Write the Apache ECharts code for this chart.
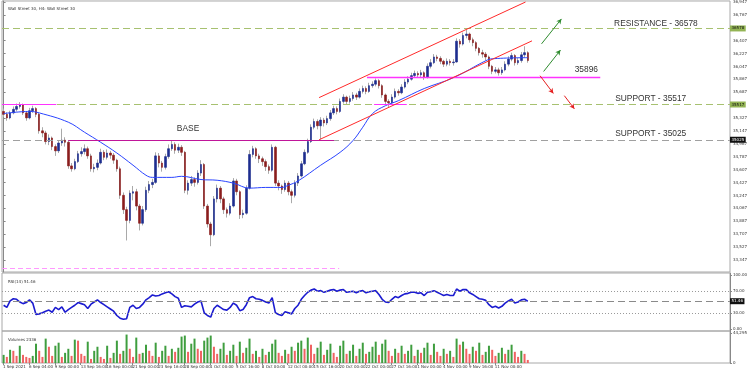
<!DOCTYPE html>
<html><head><meta charset="utf-8">
<script src="https://cdn.jsdelivr.net/npm/echarts@6/dist/echarts.min.js"></script>
<style>html,body{margin:0;padding:0;background:#fff}#c{width:750px;height:372px}</style>
</head><body><div id="c"></div><script>
const opens = [35420,35380,35330,35400,35450,35490,35510,35400,35330,35430,35460,35380,35150,35120,35000,35050,34930,34870,34980,35020,
34990,34660,34620,34720,34830,34860,34900,34800,34620,34640,34700,34850,34780,34840,34810,34740,34620,34250,34050,33900,
34280,34300,34100,33860,34050,34320,34400,34430,34800,34700,34640,34790,34900,34960,34880,34920,34850,34320,34420,34470,
34430,34560,34680,34100,33850,33700,34200,34350,34200,34050,34000,34100,34450,34300,33980,34000,34350,34820,34900,34800,
34760,34720,34650,34600,34920,34420,34380,34330,34420,34300,34250,34420,34520,34690,34850,35000,35200,35280,35220,35300,
35260,35320,35400,35460,35420,35560,35620,35560,35600,35650,35620,35700,35740,35700,35780,35800,35850,35780,35650,35560,
35540,35620,35700,35680,35760,35830,35870,35920,35950,35930,35960,35900,36050,36100,36180,36160,36120,36080,36120,36100,
36110,36400,36360,36480,36500,36420,36380,36300,36240,36220,36180,36050,35980,36000,35960,36000,36080,36150,36200,36100,
36130,36210,36240];
const closes = [35380,35330,35400,35450,35490,35510,35400,35330,35430,35460,35380,35150,35120,35000,35050,34930,34870,34980,35020,34990,
34660,34620,34720,34830,34860,34900,34800,34620,34640,34700,34850,34780,34840,34810,34740,34620,34250,34050,33900,34280,
34300,34100,33860,34050,34320,34400,34430,34800,34700,34640,34790,34900,34960,34880,34920,34850,34320,34420,34470,34430,
34560,34680,34100,33850,33700,34200,34350,34200,34050,34000,34100,34450,34300,33980,34000,34350,34820,34900,34800,34760,
34720,34650,34600,34920,34420,34380,34330,34420,34300,34250,34420,34520,34690,34850,35000,35200,35280,35220,35300,35260,
35320,35400,35460,35420,35560,35620,35560,35600,35650,35620,35700,35740,35700,35780,35800,35850,35780,35650,35560,35540,
35620,35700,35680,35760,35830,35870,35920,35950,35930,35960,35900,36050,36100,36180,36160,36120,36080,36120,36100,36110,
36400,36360,36480,36500,36420,36380,36300,36240,36220,36180,36050,35980,36000,35960,36000,36080,36150,36200,36100,36130,
36210,36240,36130];
const lows = [35340,35290,35310,35380,35420,35460,35370,35290,35310,35400,35340,35110,35060,34960,34950,34880,34800,34840,34940,34930,
34620,34580,34600,34700,34790,34820,34760,34580,34570,34600,34680,34740,34750,34760,34690,34580,34200,33990,33620,33860,
34180,34040,33760,33830,34020,34280,34350,34410,34640,34580,34610,34760,34870,34830,34840,34800,34280,34260,34380,34370,
34400,34520,34060,33800,33540,33680,34150,34140,33990,33940,33970,34080,34250,33920,33930,33980,34330,34780,34760,34700,
34660,34590,34550,34580,34380,34320,34270,34300,34250,34140,34220,34380,34500,34670,34830,34980,35170,35170,35030,35210,
35230,35290,35370,35380,35400,35530,35520,35530,35570,35580,35600,35670,35660,35680,35750,35770,35740,35610,35520,35480,
35510,35600,35640,35660,35740,35800,35850,35890,35890,35900,35860,35880,36020,36080,36120,36080,36040,36050,36060,36060,
36100,36310,36340,36440,36380,36330,36260,36200,36170,36130,36010,35940,35950,35920,35930,35980,36050,36120,36060,36070,
36100,36170,36100];
const highs = [35460,35410,35430,35490,35530,35550,35530,35420,35470,35500,35480,35400,35200,35150,35100,35070,34960,35020,35180,35060,
35010,34700,34760,34870,34920,34960,34930,34830,34690,34750,34900,34880,34890,34870,34840,34760,34650,34290,34090,34320,
34380,34340,34130,34100,34370,34450,34480,34850,34840,34730,34830,34960,35020,34990,34970,34950,34870,34460,34520,34500,
34600,34740,34700,34130,33880,34240,34400,34380,34230,34080,34140,34490,34480,34320,34050,34390,34880,34940,34920,34830,
34790,34750,34680,34960,34940,34460,34400,34460,34450,34330,34460,34560,34730,34890,35040,35240,35320,35310,35340,35330,
35360,35440,35500,35490,35600,35660,35640,35640,35690,35680,35740,35780,35770,35820,35840,35880,35870,35800,35670,35590,
35660,35740,35730,35800,35870,35910,35960,35990,35980,36000,35980,36090,36150,36220,36210,36190,36140,36160,36150,36150,
36440,36430,36520,36560,36520,36450,36400,36320,36280,36250,36200,36070,36040,36030,36040,36120,36190,36240,36220,36170,
36250,36330,36260];
const volumes = [12000,9000,19500,18000,10500,25500,12000,9000,7500,10500,28500,18000,9000,36000,24000,10500,25500,30000,9000,15000,
21000,10500,34500,33000,13500,10500,31500,6000,18000,24000,9000,6000,25500,7500,15000,33000,13500,18000,42000,21000,
9000,37500,13500,15000,27000,18000,10500,30000,9000,18000,25500,10500,21000,16500,22500,39000,40500,16500,28500,36000,
21000,18000,33000,37500,40500,24000,13500,21000,30000,12000,18000,27000,10500,31500,15000,22500,36000,13500,18000,9000,
21000,12000,16500,28500,34500,15000,10500,19500,13500,24000,18000,30000,33000,21000,37500,27000,13500,22500,31500,12000,
19500,28500,15000,9000,25500,33000,13500,18000,27000,10500,21000,30000,13500,16500,24000,31500,12000,28500,34500,18000,
10500,21000,15000,25500,13500,18000,27000,10500,19500,15000,22500,30000,12000,28500,16500,10500,21000,13500,18000,9000,
36000,27000,31500,21000,13500,24000,18000,30000,12000,16500,25500,19500,10500,15000,22500,13500,19500,27000,16500,9000,
18000,13500,4500];
const rsi = [44,40,52,56,55,50,47,49,54,48,27,28,30,33,35,31,40,36,41,31,
36,40,44,49,47,45,38,46,50,54,49,45,41,37,33,25,20,18,19,40,
44,38,40,46,54,58,63,61,62,65,67,69,65,60,57,40,43,42,41,46,
50,52,30,25,22,38,44,40,36,35,40,48,44,34,36,45,58,60,56,55,
53,50,48,58,30,27,25,32,30,28,38,44,55,62,68,72,74,70,71,68,
70,72,73,70,72,73,68,69,70,67,70,71,67,69,70,71,64,55,50,49,
55,60,58,62,65,66,68,68,66,67,62,68,69,71,68,65,62,64,62,62,
74,70,73,73,67,64,60,56,55,53,45,40,42,39,42,48,52,55,48,50,
54,55,51.46];
const maPoints = [[0,35390],[8,35420],[11,35400],[20,35270],[25,35130],[30,34990],[35,34840],[40,34670],[44,34530],[46,34500],
[52,34500],[55,34515],[61,34470],[66,34460],[71,34420],[76,34350],[81,34360],[86,34360],[88,34390],[91,34450],[98,34670],
[104,34850],[108,35015],[111,35200],[114,35390],[118,35500],[122,35570],[130,35740],[139,35890],[149,36127],[151,36155],[162,36170]];
const xTickLabels = ['1 Sep 2021','6 Sep 04:00','9 Sep 00:00','13 Sep 16:00','16 Sep 00:00','21 Sep 00:00','23 Sep 16:00','28 Sep 00:00',
'1 Oct 00:00','5 Oct 16:00','8 Oct 00:00','12 Oct 00:00','15 Oct 16:00','20 Oct 00:00','22 Oct 00:00','27 Oct 16:00','1 Nov 00:00',
'4 Nov 00:00','9 Nov 16:00','11 Nov 00:00','16 Nov 00:00'];
const priceTicks = [33347,33527,33707,33887,34067,34247,34427,34607,34787,34967,35147,35327,35687,35867,36047,36227,36407,36767,36947];
const rsiTicks = [0,30,70,100];
const volTicks = [0,44295];
const resistance = 36578, support1 = 35517, support2 = 35025, midLevel = 35896, lowLevel = 33236, rsiNow = 51.46;

const N_CATS = 225, LABEL_EVERY = 8;
const cats = Array.from({length: N_CATS}, (_, i) => String(i));
const wickData = opens.map((o, i) => [o, closes[i], lows[i], highs[i]]);
const bodyData = opens.map((o, i) => [o, closes[i], Math.min(o, closes[i]), Math.max(o, closes[i])]);
const maData = cats.map(() => null);
maPoints.forEach(p => { maData[p[0]] = p[1]; });
const volData = volumes.map((v, i) => ({value: v, itemStyle: {color: (i === 0 || v > volumes[i - 1]) ? '#3f9e3f' : '#f06262'}}));

const tiny = {fontSize: 4, color: '#333', fontFamily: 'DejaVu Sans'};
const ann = {fontSize: 8.4, color: '#333', fontFamily: 'Liberation Sans'};
const GREEN = '#a7c170', MAG = '#ff33ff', BASEC = '#c0169a', RED = '#ff2a2a', ARG = '#2e8b2e', ARR = '#e52020';
const seg = (x1, y1, x2, y2, color, type, width) => [{coord: [x1, y1], lineStyle: {color, type: type || 'solid', width: width || 1}}, {coord: [x2, y2]}];
const arrow = (x1, y1, x2, y2, color) => [{coord: [x1, y1], symbol: 'none', lineStyle: {color, width: 1, type: 'solid'}}, {coord: [x2, y2], symbol: 'arrow', symbolSize: [4, 5]}];
const tag = (v, bg, fg) => ({yAxis: v, label: {show: true, position: 'end', distance: 0, formatter: String(v), backgroundColor: bg, color: fg, fontSize: 4, fontFamily: 'DejaVu Sans', padding: [1, 1.5]}});
const txt = (x, y, s) => ({coord: [x, y], symbolSize: 0, label: {show: true, position: 'inside', formatter: s, ...ann}});

const chart = echarts.init(document.getElementById('c'), null, {renderer: 'canvas'});
chart.setOption({
  animation: false,
  backgroundColor: '#fff',
  title: [
    {text: 'Wall Street 30, H4: Wall Street 30', left: 3, top: 2, textStyle: {...tiny, fontWeight: 'normal'}},
    {text: 'RSI(14) ' + rsiNow.toFixed(2), left: 3, top: 275, textStyle: {...tiny, fontWeight: 'normal'}},
    {text: 'Volumes 2336', left: 3, top: 333, textStyle: {...tiny, fontWeight: 'normal'}}
  ],
  grid: [
    {left: 2, right: 18, top: 0, height: 272, show: true, borderColor: '#a8a8a8', borderWidth: 1},
    {left: 2, right: 18, top: 273, height: 58, show: true, borderColor: '#a8a8a8', borderWidth: 1},
    {left: 2, right: 18, top: 331, height: 32, show: true, borderColor: '#a8a8a8', borderWidth: 1},
    {left: -0.6, right: 20.6, top: 331, height: 32, show: false}
  ],
  xAxis: [
    {type: 'category', gridIndex: 0, data: cats, show: false},
    {type: 'category', gridIndex: 1, data: cats, show: false},
    {type: 'category', gridIndex: 2, data: cats, show: false},
    {type: 'category', gridIndex: 3, data: cats, axisLine: {show: false},
      axisTick: {show: true, alignWithLabel: true, length: 2, interval: (i) => i % LABEL_EVERY === 0 && i / LABEL_EVERY < xTickLabels.length, lineStyle: {color: '#888'}},
      axisLabel: {show: true, interval: (i) => i % LABEL_EVERY === 0 && i / LABEL_EVERY < xTickLabels.length, formatter: (v, i) => xTickLabels[Math.round(Number(v) / LABEL_EVERY)] || '', align: 'left', margin: 2, ...tiny}},
    {type: 'value', gridIndex: 0, min: -0.5, max: N_CATS - 0.5, show: false}
  ],
  yAxis: [
    {type: 'value', gridIndex: 0, position: 'right', min: 33180, max: 36961, splitLine: {show: false},
      axisLine: {show: true, lineStyle: {color: '#888'}}, axisTick: {show: true, length: 2, customValues: priceTicks, lineStyle: {color: '#888'}},
      axisLabel: {customValues: priceTicks, margin: 3, ...tiny}},
    {type: 'value', gridIndex: 1, position: 'right', min: -3.7, max: 103.7, splitLine: {show: false},
      axisLine: {show: true, lineStyle: {color: '#888'}}, axisTick: {show: true, length: 2, customValues: rsiTicks, lineStyle: {color: '#888'}},
      axisLabel: {customValues: rsiTicks, formatter: (v) => Number(v).toFixed(2), margin: 3, ...tiny}},
    {type: 'value', gridIndex: 2, position: 'right', min: 0, max: 47250, splitLine: {show: false},
      axisLine: {show: true, lineStyle: {color: '#888'}}, axisTick: {show: true, length: 2, customValues: volTicks, lineStyle: {color: '#888'}},
      axisLabel: {customValues: volTicks, margin: 3, ...tiny}},
    {type: 'value', gridIndex: 3, show: false}
  ],
  series: [
    {type: 'candlestick', name: 'wick', xAxisIndex: 0, yAxisIndex: 0, data: wickData, barWidth: 1, silent: true,
      itemStyle: {color: '#a9a9a9', color0: '#a9a9a9', borderColor: '#a9a9a9', borderColor0: '#a9a9a9', borderWidth: 1}},
    {type: 'candlestick', name: 'body', xAxisIndex: 0, yAxisIndex: 0, data: bodyData, barWidth: 2, silent: true,
      itemStyle: {color: '#1d2d8f', color0: '#8a1d1d', borderColor: '#1d2d8f', borderColor0: '#8a1d1d', borderWidth: 0.6}},
    {type: 'line', name: 'MA', xAxisIndex: 0, yAxisIndex: 0, data: maData, connectNulls: true, smooth: 0.4, symbol: 'none',
      lineStyle: {color: '#2a44ff', width: 1}, z: 4},
    {type: 'line', name: 'annot', xAxisIndex: 4, yAxisIndex: 0, data: [], z: 5,
      markLine: {silent: true, symbol: ['none', 'none'], animation: false, label: {show: false},
        data: [
          {...tag(resistance, '#93b454', '#111'), lineStyle: {color: GREEN, type: [7, 4], width: 1}},
          {...tag(support1, '#93b454', '#111'), lineStyle: {color: GREEN, type: [7, 4], width: 1}},
          {...tag(support2, '#111', '#fff'), lineStyle: {color: '#a0a0a0', type: [7, 4], width: 1}},
          seg(20.0, support2, 102.1, support2, BASEC, 'solid', 1.2),
          seg(-0.5, support1, 16.3, support1, MAG, 'solid', 1.2),
          seg(112.3, midLevel, 184.4, midLevel, MAG, 'solid', 1.3),
          seg(114.5, support1, 124.6, support1, MAG, 'solid', 1.2),
          seg(-0.5, lowLevel, 103.7, lowLevel, '#ff99ff', [5, 3], 1),
          seg(97.5, 35613, 161.3, 36947, RED, 'solid', 1),
          seg(97.5, 35025, 163.3, 36405, RED, 'solid', 1),
          arrow(166.25, 36363, 172.4, 36711, ARG),
          arrow(166.9, 35978, 172.1, 36276, ARG),
          arrow(165.8, 35918, 169.9, 35672, ARR),
          arrow(173.3, 35640, 176.4, 35456, ARR)
        ]},
      markPoint: {silent: true, animation: false, symbol: 'circle', symbolSize: 0,
        data: [
          txt(201.6, 36641, 'RESISTANCE - 36578'),
          txt(200.0, 35599, 'SUPPORT - 35517'),
          txt(200.0, 35112, 'SUPPORT - 35025'),
          txt(180.1, 36002, '35896'),
          txt(57.0, 35182, 'BASE')
        ]}},
    {type: 'line', name: 'RSI', xAxisIndex: 1, yAxisIndex: 1, data: rsi, symbol: 'none', lineStyle: {color: '#1b1bd0', width: 1.6},
      markLine: {silent: true, symbol: ['none', 'none'], animation: false, label: {show: false},
        data: [
          {yAxis: 70, lineStyle: {color: '#9a9a9a', type: [1, 2], width: 1}},
          {yAxis: 30, lineStyle: {color: '#9a9a9a', type: [1, 2], width: 1}},
          {...tag(rsiNow, '#111', '#fff'), lineStyle: {color: '#8a8a8a', type: [7, 4], width: 1}}
        ]}},
    {type: 'bar', name: 'Volumes', xAxisIndex: 2, yAxisIndex: 2, data: volData, barWidth: 2}
  ]
});
</script></body></html>
